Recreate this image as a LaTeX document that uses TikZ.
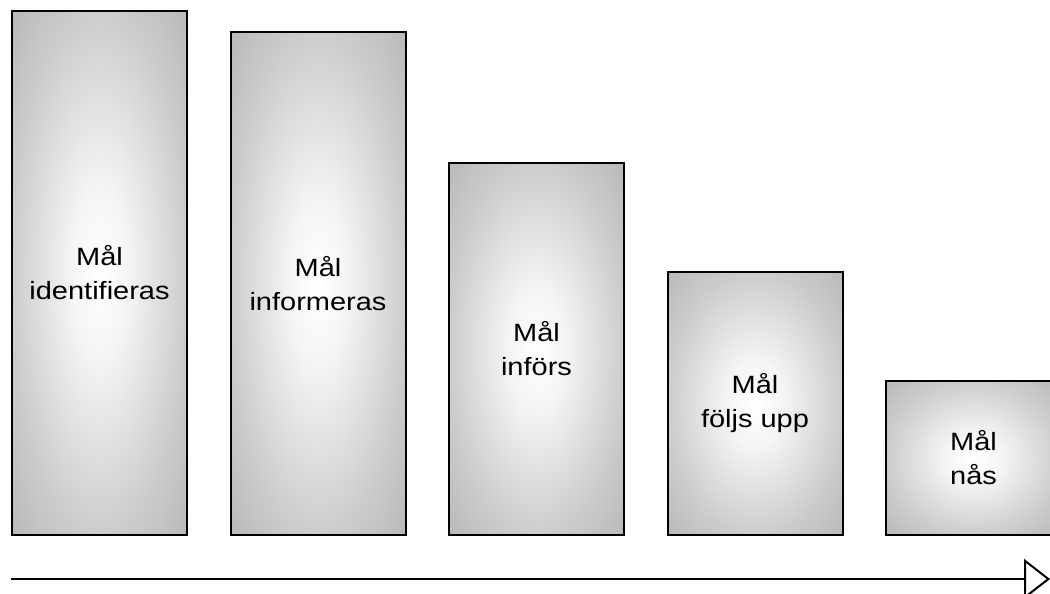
\documentclass[tikz,border=0pt]{standalone}
\usepackage{fontspec}
\setmainfont{Liberation Sans}[FakeStretch=1.16]
\usetikzlibrary{arrows.meta, positioning}
\pgfdeclareradialshading{goalglow}{\pgfpoint{0bp}{0bp}}{color(0bp)=(white); color(8bp)=(white!96!black); color(25bp)=(white!80!black); color(36bp)=(white!72!black); color(50bp)=(white!72!black)}
\tikzstyle{goal} = [draw, line width=2pt, shading=goalglow, minimum width=175pt, inner sep=0pt, align=center, font=\fontsize{25}{34}\selectfont]
\tikzstyle{flow} = [-{Triangle[open, length=26pt, width=40pt]}, line width=2pt]

\begin{document}
\begin{tikzpicture}[x=1pt, y=-1pt]
    \useasboundingbox (0,0) rectangle (1050,594);

    % Goal stages, bottoms aligned.
    \node (goal1) [goal, minimum height=524pt, anchor=south west] at (11,536) {Mål\\identifieras};
    \node (goal2) [goal, minimum height=503pt, right=41.5pt of goal1.south east, anchor=south west] {Mål\\informeras};
    \node (goal3) [goal, minimum height=372pt, right=41.5pt of goal2.south east, anchor=south west] {Mål\\införs};
    \node (goal4) [goal, minimum height=263pt, right=41.5pt of goal3.south east, anchor=south west] {Mål\\följs upp};
    \node (goal5) [goal, minimum height=154pt, right=41.5pt of goal4.south east, anchor=south west] {Mål\\nås};

    % Time axis.
    \coordinate (start) at (11,579);
    \coordinate (end) at (1050,579);
    \draw [flow] (start) -- (end);
\end{tikzpicture}
\end{document}
